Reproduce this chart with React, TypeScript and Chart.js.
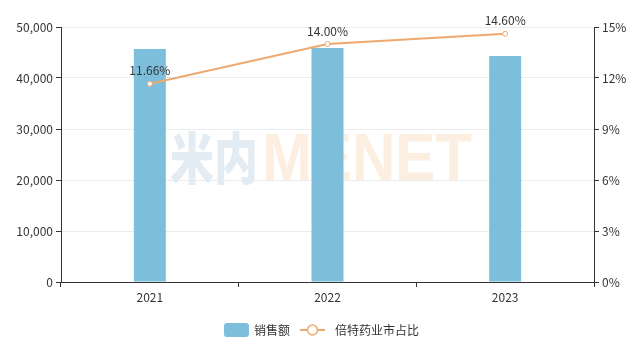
import React, { useEffect, useRef } from "react";
import { Chart, registerables } from "chart.js";

Chart.register(...registerables);

const categories = ["2021", "2022", "2023"];
const salesValues = [45700, 45900, 44300];
const shareValues = [11.66, 14.0, 14.6];
const salesLabel = "销售额";
const shareLabel = "倍特药业市占比";

const FONT = '"Noto Sans CJK SC", "Noto Sans", sans-serif';
const BAR_COLOR = "#7dbedb";
const LINE_COLOR = "#eda96f";
const TEXT_COLOR = "#333";

const overlayPlugin = {
  id: "overlay",
  beforeDatasetsDraw(chart: any) {
    const ctx = chart.ctx;
    ctx.save();
    ctx.textBaseline = "alphabetic";
    ctx.textAlign = "left";
    ctx.fillStyle = "#e3ecf2";
    ctx.font = `900 56px ${FONT}`;
    ctx.fillText("米内", 170, 179, 88);
    ctx.fillStyle = "#fdeee2";
    ctx.font = `bold 66px "Liberation Sans", Arial, sans-serif`;
    ctx.fillText("MENET", 262, 180, 210);
    ctx.restore();
  },
  afterDatasetsDraw(chart: any) {
    const ctx = chart.ctx;
    const meta = chart.getDatasetMeta(1);
    ctx.save();
    ctx.font = `12px ${FONT}`;
    ctx.fillStyle = TEXT_COLOR;
    ctx.textAlign = "center";
    ctx.textBaseline = "bottom";
    meta.data.forEach((pt: any, i: number) => {
      ctx.fillText(shareValues[i].toFixed(2) + "%", pt.x, pt.y - 7);
    });
    ctx.restore();
  },
  afterDraw(chart: any) {
    const ctx = chart.ctx;
    const cy = 330;
    ctx.save();
    ctx.fillStyle = BAR_COLOR;
    const bx = 224, bw = 25, bh = 14;
    ctx.beginPath();
    (ctx as any).roundRect ? (ctx as any).roundRect(bx, cy - bh / 2, bw, bh, 3) : ctx.rect(bx, cy - bh / 2, bw, bh);
    ctx.fill();
    ctx.font = `12px ${FONT}`;
    ctx.fillStyle = TEXT_COLOR;
    ctx.textBaseline = "middle";
    ctx.textAlign = "left";
    ctx.fillText(salesLabel, 254, cy);
    ctx.strokeStyle = LINE_COLOR;
    ctx.lineWidth = 2;
    ctx.beginPath();
    ctx.moveTo(300, cy);
    ctx.lineTo(325, cy);
    ctx.stroke();
    ctx.beginPath();
    ctx.arc(312.5, cy, 5, 0, Math.PI * 2);
    ctx.fillStyle = "#fff";
    ctx.fill();
    ctx.lineWidth = 1.5;
    ctx.stroke();
    ctx.fillStyle = TEXT_COLOR;
    ctx.fillText(shareLabel, 335, cy);
    ctx.restore();
  },
};

export default function App() {
  const ref = useRef<HTMLCanvasElement>(null);
  useEffect(() => {
    document.body.style.margin = "0";
    const chart = new Chart(ref.current as HTMLCanvasElement, {
      type: "bar",
      data: {
        labels: categories,
        datasets: [
          {
            type: "bar",
            label: salesLabel,
            data: salesValues,
            backgroundColor: BAR_COLOR,
            borderWidth: 0,
            barPercentage: 0.18,
            categoryPercentage: 1,
            yAxisID: "y",
            order: 2,
          },
          {
            type: "line",
            label: shareLabel,
            data: shareValues,
            borderColor: LINE_COLOR,
            borderWidth: 2,
            pointRadius: 2.5,
            pointBackgroundColor: "#fff",
            pointBorderColor: LINE_COLOR,
            pointBorderWidth: 1,
            tension: 0,
            yAxisID: "y1",
            order: 1,
          } as any,
        ],
      },
      options: {
        animation: false,
        responsive: false,
        maintainAspectRatio: false,
        layout: { padding: { top: 27, left: 0, right: 0, bottom: 0 } },
        plugins: {
          legend: { display: false },
          tooltip: { enabled: false },
        },
        scales: {
          x: {
            offset: true,
            grid: {
              offset: true,
              drawOnChartArea: false,
              drawTicks: true,
              tickLength: 5,
              tickColor: "#333",
            },
            border: { display: true, color: "#333" },
            ticks: { color: TEXT_COLOR, font: { family: FONT, size: 12 }, padding: 3 },
            afterFit(scale: any) {
              scale.height = 68;
            },
          },
          y: {
            position: "left",
            min: 0,
            max: 50000,
            ticks: {
              stepSize: 10000,
              color: TEXT_COLOR,
              font: { family: FONT, size: 12 },
              padding: 3,
              callback: (v: any) => Number(v).toLocaleString("en-US"),
            },
            grid: { color: "#ebebeb", tickColor: "#333", tickLength: 5 },
            border: { display: true, color: "#333" },
            afterFit(scale: any) {
              scale.width = 61;
            },
          },
          y1: {
            position: "right",
            min: 0,
            max: 15,
            ticks: {
              stepSize: 3,
              color: TEXT_COLOR,
              font: { family: FONT, size: 12 },
              padding: 3,
              callback: (v: any) => v + "%",
            },
            grid: { drawOnChartArea: false, tickColor: "#333", tickLength: 5 },
            border: { display: true, color: "#333" },
            afterFit(scale: any) {
              scale.width = 48;
            },
          },
        },
      },
      plugins: [overlayPlugin],
    } as any);
    return () => chart.destroy();
  }, []);
  return (
    <div style={{ width: 642, height: 350 }}>
      <canvas ref={ref} width={642} height={350} style={{ width: 642, height: 350 }} />
    </div>
  );
}
